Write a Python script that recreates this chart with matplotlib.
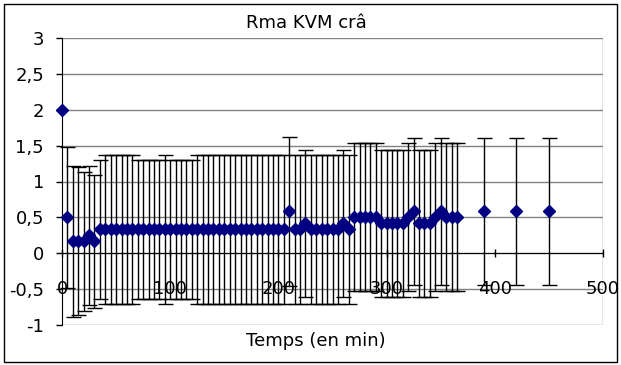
import matplotlib
matplotlib.use("Agg")
import matplotlib.pyplot as plt
from matplotlib.ticker import FuncFormatter
from matplotlib.patches import Rectangle

plt.rcParams["font.family"] = ["DejaVu Sans"]

# Sampling times (min)
times = [0, 5, 10, 15, 20, 25, 30,
         35, 40, 45, 50, 55, 60, 65, 70, 75, 80, 85, 90, 95, 100, 105, 110,
         115, 120, 125, 130, 135, 140, 145, 150, 155, 160, 165, 170, 175, 180,
         185, 190, 195, 200, 205,
         210, 215, 220, 225,
         230, 235, 240, 245, 250, 255,
         260, 265,
         270, 275, 280, 285, 290,
         295, 300, 305, 310, 315,
         320, 325,
         330, 335, 340,
         345, 350,
         355, 360, 365,
         390, 420, 450]

# Mean score at each time
means = [2.0, 0.5, 0.167, 0.167, 0.167, 0.25, 0.167,
         0.333, 0.333, 0.333, 0.333, 0.333, 0.333, 0.333, 0.333, 0.333, 0.333,
         0.333, 0.333, 0.333, 0.333, 0.333, 0.333, 0.333, 0.333, 0.333, 0.333,
         0.333, 0.333, 0.333, 0.333, 0.333, 0.333, 0.333, 0.333, 0.333, 0.333,
         0.333, 0.333, 0.333, 0.333, 0.333,
         0.583, 0.333, 0.333, 0.417,
         0.333, 0.333, 0.333, 0.333, 0.333, 0.333,
         0.417, 0.333,
         0.5, 0.5, 0.5, 0.5, 0.5,
         0.417, 0.417, 0.417, 0.417, 0.417,
         0.5, 0.583,
         0.417, 0.417, 0.417,
         0.5, 0.583,
         0.5, 0.5, 0.5,
         0.583, 0.583, 0.583]

# Standard deviation at each time
errs = [0.0, 0.98, 1.05, 1.03, 0.97, 0.97, 0.93,
        0.97, 1.04, 1.04, 1.04, 1.04, 1.04, 1.04, 0.97, 0.97, 0.97,
        0.97, 0.97, 1.04, 0.97, 0.97, 0.97, 0.97, 0.97, 1.04, 1.04,
        1.04, 1.04, 1.04, 1.04, 1.04, 1.04, 1.04, 1.04, 1.04, 1.04,
        1.04, 1.04, 1.04, 1.04, 1.04,
        1.04, 1.04, 1.04, 1.02,
        1.04, 1.04, 1.04, 1.04, 1.04, 1.04,
        1.02, 1.04,
        1.03, 1.03, 1.03, 1.03, 1.03,
        1.02, 1.02, 1.02, 1.02, 1.02,
        1.03, 1.03,
        1.02, 1.02, 1.02,
        1.03, 1.03,
        1.03, 1.03, 1.03,
        1.03, 1.03, 1.03]

x_ticks = [0, 100, 200, 300, 400, 500]
y_ticks = [-1, -0.5, 0, 0.5, 1, 1.5, 2, 2.5, 3]

title = "Rma KVM crâ"
x_label = "Temps (en min)"

W, H = 621, 365
fig = plt.figure(figsize=(W / 100, H / 100), dpi=100)
ax = fig.add_axes([62 / W, 1 - 325 / H, (603 - 62) / W, (325 - 38) / H])
ax.set_xlim(x_ticks[0], x_ticks[-1])
ax.set_ylim(y_ticks[0], y_ticks[-1])

# Horizontal gridlines and plot-area frame
for yv in y_ticks:
    ax.axhline(yv, color="#808080", lw=1, zorder=1)
ax.axvline(x_ticks[-1], color="#808080", lw=1, zorder=1)

# Error bars (skip points with no spread)
eb_t = [t for t, e in zip(times, errs) if e > 0]
eb_m = [m for m, e in zip(means, errs) if e > 0]
eb_e = [e for e in errs if e > 0]
ax.errorbar(eb_t, eb_m, yerr=eb_e, fmt="none", ecolor="black",
            elinewidth=1, capsize=5.4, capthick=1, zorder=2, clip_on=False)

ax.plot(times, means, linestyle="none", marker="D", ms=6.5,
        color="#000080", mec="#000080", zorder=3, clip_on=False)

# Axes: y axis on the left, x axis crossing at y = 0
for s in ("top", "right"):
    ax.spines[s].set_visible(False)
ax.spines["left"].set_color("black")
ax.spines["bottom"].set_position(("data", 0))
ax.spines["bottom"].set_color("black")
ax.spines["left"].set_zorder(2.5)
ax.spines["bottom"].set_zorder(2.5)

ax.set_yticks(y_ticks)
ax.set_xticks(x_ticks)
ax.yaxis.set_major_formatter(FuncFormatter(lambda v, p: f"{v:g}".replace(".", ",")))
ax.tick_params(axis="y", direction="out", length=4, width=1, pad=9,
               labelsize=13, colors="black")
ax.tick_params(axis="x", direction="inout", length=6, width=1, pad=16,
               labelsize=13, colors="black")

fig.text(306 / W, 1 - 23 / H, title, ha="center", va="center", fontsize=13)
fig.text(316 / W, 1 - 341 / H, x_label, ha="center", va="center", fontsize=13)

# Chart area border
fig.patches.append(Rectangle((4 / W, 1 - 362 / H), (617 - 4) / W, (362 - 4) / H,
                             transform=fig.transFigure, fill=False,
                             edgecolor="black", lw=1))

fig.savefig("out.png", dpi=100)
